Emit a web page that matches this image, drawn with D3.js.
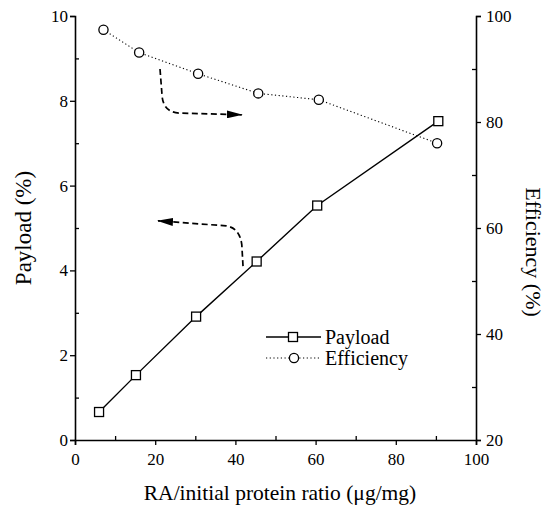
<!DOCTYPE html>
<html>
<head>
<meta charset="utf-8">
<script src="https://cdn.jsdelivr.net/npm/d3@7"></script>
<style>
  body { margin: 0; background: #fff; }
  text { font-family: "Liberation Serif", "DejaVu Serif", serif; fill: #000; }
</style>
</head>
<body>
<script>
// data
var payloadX = [6, 15.2, 30.2, 45.3, 60.4, 90.6];
var payloadY = [0.66, 1.53, 2.91, 4.21, 5.53, 7.52];
var effX = [7.1, 16.0, 30.7, 45.7, 60.8, 90.3];
var effY = [97.4, 93.1, 89.1, 85.4, 84.2, 76.0];
var xTicks = [0, 20, 40, 60, 80, 100];
var leftTicks = [0, 2, 4, 6, 8, 10];
var rightTicks = [20, 40, 60, 80, 100];
// annotation arrows in (x, payload) units: start, bend start, corner, bend end, tip
var arrowRight = [[21.2, 8.75], [21.7, 8.14], [21.9, 7.74], [25.9, 7.71], [41.6, 7.67]];
var arrowLeft = [[41.9, 4.10], [41.6, 4.60], [41.1, 5.0], [37.7, 5.05], [20.7, 5.17]];

var width = 548, height = 508;
var svg = d3.select('body').append('svg')
    .attr('width', width)
    .attr('height', height);

var x = d3.scaleLinear().domain([0, 100]).range([75, 476]);
var yL = d3.scaleLinear().domain([0, 10]).range([440, 16]);
var yR = d3.scaleLinear().domain([20, 100]).range([440, 16]);

// arrow head marker
svg.append('defs').append('marker')
    .attr('id', 'head')
    .attr('markerUnits', 'userSpaceOnUse')
    .attr('markerWidth', 16).attr('markerHeight', 8)
    .attr('refX', 15).attr('refY', 4)
    .attr('orient', 'auto')
    .append('path')
    .attr('d', 'M0,0 L16,4 L0,8 Z')
    .attr('fill', '#000');

// axes: major ticks outward, minor ticks inward
svg.append('g').attr('transform', 'translate(0,440)')
    .call(d3.axisBottom(x).tickValues(xTicks).tickSize(5).tickPadding(8));
svg.append('g').attr('transform', 'translate(0,440)')
    .call(d3.axisTop(x).tickValues([10, 30, 50, 70, 90]).tickSize(4).tickFormat(''))
    .select('.domain').remove();

svg.append('g').attr('transform', 'translate(75,0)')
    .call(d3.axisLeft(yL).tickValues(leftTicks).tickSize(5).tickPadding(2));
svg.append('g').attr('transform', 'translate(75,0)')
    .call(d3.axisRight(yL).tickValues([1, 3, 5, 7, 9]).tickSize(4).tickFormat(''))
    .select('.domain').remove();

svg.append('g').attr('transform', 'translate(476,0)')
    .call(d3.axisRight(yR).tickValues(rightTicks).tickSize(5).tickPadding(5));
svg.append('g').attr('transform', 'translate(476,0)')
    .call(d3.axisLeft(yR).tickValues([30, 50, 70, 90]).tickSize(4).tickFormat(''))
    .select('.domain').remove();

svg.selectAll('g')
    .attr('font-family', '"Liberation Serif", serif')
    .attr('font-size', 17);
svg.selectAll('.domain').attr('stroke-width', 1.6);
svg.selectAll('.tick line').attr('stroke-width', 1.3);

// lines
var effLine = d3.line()
    .x(function(d, i) { return x(effX[i]); })
    .y(function(d) { return yR(d); });
svg.append('path')
    .attr('d', effLine(effY))
    .attr('fill', 'none')
    .attr('stroke', '#000')
    .attr('stroke-width', 1.1)
    .attr('stroke-dasharray', '1.2,2.5');

var payLine = d3.line()
    .x(function(d, i) { return x(payloadX[i]); })
    .y(function(d) { return yL(d); });
svg.append('path')
    .attr('d', payLine(payloadY))
    .attr('fill', 'none')
    .attr('stroke', '#000')
    .attr('stroke-width', 1.4);

// markers
svg.selectAll('.sq').data(payloadY).enter().append('rect')
    .attr('x', function(d, i) { return x(payloadX[i]) - 4.5; })
    .attr('y', function(d) { return yL(d) - 4.5; })
    .attr('width', 9).attr('height', 9)
    .attr('fill', '#fff').attr('stroke', '#000').attr('stroke-width', 1.3);

svg.selectAll('.ci').data(effY).enter().append('circle')
    .attr('cx', function(d, i) { return x(effX[i]); })
    .attr('cy', function(d) { return yR(d); })
    .attr('r', 4.6)
    .attr('fill', '#fff').attr('stroke', '#000').attr('stroke-width', 1.3);

// curved dashed arrows
function arrowPath(p) {
    var a = p.map(function(d) { return [x(d[0]), yL(d[1])]; });
    return 'M' + a[0] + 'L' + a[1] + 'Q' + a[2] + ' ' + a[3] + 'L' + a[4];
}
[arrowRight, arrowLeft].forEach(function(p) {
    svg.append('path')
        .attr('d', arrowPath(p))
        .attr('fill', 'none')
        .attr('stroke', '#000')
        .attr('stroke-width', 1.7)
        .attr('stroke-dasharray', '6,3.5')
        .attr('marker-end', 'url(#head)');
});

// legend
var leg = svg.append('g');
leg.append('line').attr('x1', 266).attr('x2', 321).attr('y1', 337).attr('y2', 337)
    .attr('stroke', '#000').attr('stroke-width', 1.4);
leg.append('rect').attr('x', 288.5).attr('y', 332.5).attr('width', 9).attr('height', 9)
    .attr('fill', '#fff').attr('stroke', '#000').attr('stroke-width', 1.3);
leg.append('text').attr('x', 325).attr('y', 344).style('font-size', '20px').text('Payload');
leg.append('line').attr('x1', 266).attr('x2', 321).attr('y1', 358).attr('y2', 358)
    .attr('stroke', '#000').attr('stroke-width', 1.1).attr('stroke-dasharray', '1.2,2.5');
leg.append('circle').attr('cx', 294).attr('cy', 358).attr('r', 4.6)
    .attr('fill', '#fff').attr('stroke', '#000').attr('stroke-width', 1.3);
leg.append('text').attr('x', 325).attr('y', 365).style('font-size', '20px').text('Efficiency');

// axis titles
svg.append('text')
    .attr('x', 280).attr('y', 500)
    .attr('text-anchor', 'middle')
    .style('font-size', '21.5px')
    .text('RA/initial protein ratio (\u03bcg/mg)');

svg.append('text')
    .attr('transform', 'translate(31,228) rotate(-90)')
    .attr('text-anchor', 'middle')
    .style('font-size', '23px')
    .text('Payload (%)');

svg.append('text')
    .attr('transform', 'translate(526,252) rotate(90)')
    .attr('text-anchor', 'middle')
    .style('font-size', '22px')
    .text('Efficiency (%)');
</script>
</body>
</html>
